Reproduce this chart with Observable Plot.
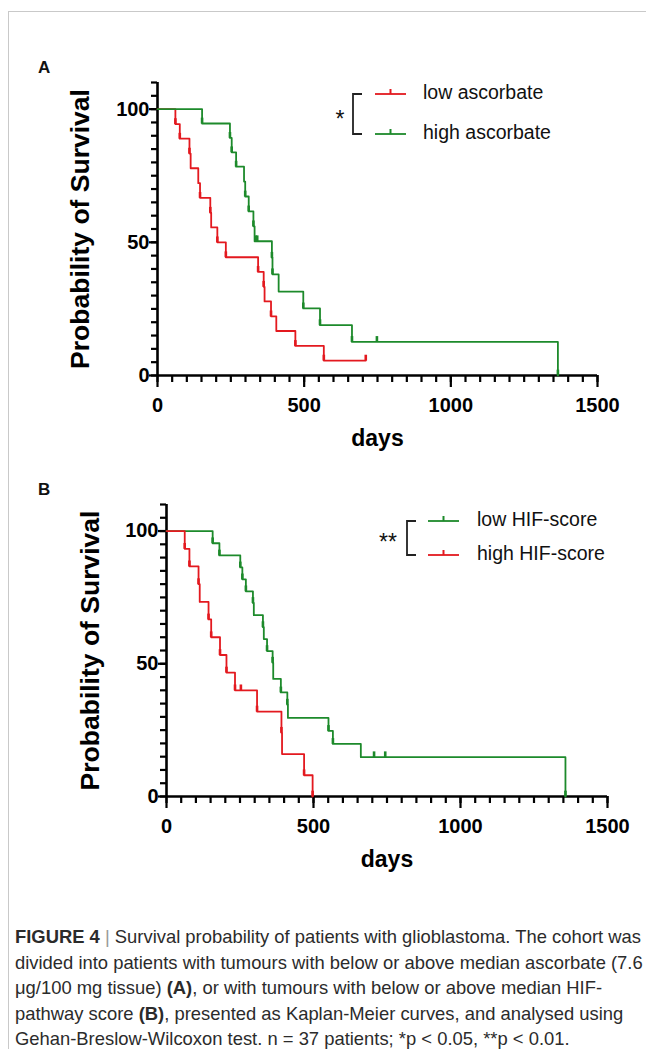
<!DOCTYPE html>
<html><head><meta charset="utf-8">
<script src="https://cdn.jsdelivr.net/npm/d3@7"></script>
<script src="https://cdn.jsdelivr.net/npm/@observablehq/plot@0.6"></script>
<style>
html,body{margin:0;padding:0;background:#fff;}
#page{position:relative;width:646px;height:1049px;overflow:hidden;background:#fff;font-family:"Liberation Sans",Arial,sans-serif;}
#frame{position:absolute;left:8px;top:11px;width:800px;height:1200px;border-top:1px solid #c9c9c9;border-left:1px solid #c9c9c9;}
.abs{position:absolute;left:0;}
.plab{position:absolute;font-weight:bold;font-size:17px;font-family:"Liberation Sans",Arial,sans-serif;color:#111;}
#caption{position:absolute;left:15px;top:924px;font-size:18.4px;line-height:25.5px;color:#2b2b2b;white-space:nowrap;font-family:"Liberation Sans",Arial,sans-serif;}
#caption .bar{color:#999;}
</style>
</head><body>
<div id="page">
  <div id="frame"></div>
  <div class="plab" style="left:38px;top:58px;">A</div>
  <div class="plab" style="left:38px;top:480px;">B</div>
  <div id="caption"></div>
</div>
<script>
// ---------- shared axis data ----------
const xLabel = "days";
const yLabel = "Probability of Survival";
const xMajor = [0, 500, 1000, 1500];
const xMinor = d3.range(0, 1501, 50);
const yMajor = [0, 50, 100];
const yMinor = d3.range(0, 111, 5);
const RED = "#e3191f", GREEN = "#1d8a2b";

// ---------- panel A: ascorbate ----------
const aNames = ["low ascorbate", "high ascorbate"];
const aSignif = "*";
const aLow = [[0,100],[61,94.4],[76,88.9],[109,83.3],[113,77.8],[139,72.2],[145,66.7],[180,61.1],[183,55.6],[204,50],[233,44.4],[343,38.9],[362,33.3],[365,27.8],[387,22.2],[405,16.7],[470,11.1],[567,5.6],[710,5.6]];
const aLowCensor = [[61,94.4],[76,88.9],[109,83.3],[145,66.7],[180,61.1],[204,50],[233,44.4],[343,38.9],[362,33.3],[387,22.2],[470,11.1],[567,5.6],[710,5.6]];
const aHigh = [[0,100],[152,94.6],[247,89.2],[253,83.8],[268,78.4],[295,72.8],[299,67.2],[311,61.6],[327,56],[331,50.4],[390,44.2],[392,38],[413,31.5],[497,25.2],[554,18.9],[663,12.6],[1365,0]];
const aHighCensor = [[152,94.6],[247,89.2],[253,83.8],[268,78.4],[299,67.2],[311,61.6],[327,56],[335,50.4],[340,50.4],[390,44.2],[392,38],[497,25.2],[554,18.9],[663,12.6],[748,12.6],[1365,0]];

// ---------- panel B: HIF-score ----------
const bNames = ["low HIF-score", "high HIF-score"];
const bSignif = "**";
const bLow = [[0,100],[157,95.4],[180,90.8],[251,86.3],[258,81.8],[270,77.3],[294,72.9],[297,68.3],[328,63.8],[331,59.3],[342,54.8],[361,50.4],[363,44.3],[389,39.2],[411,34.6],[413,29.6],[551,24.7],[566,19.8],[661,14.8],[1357,0]];
const bLowCensor = [[157,95.4],[180,90.8],[251,86.3],[258,81.8],[270,77.3],[294,72.9],[328,63.8],[342,54.8],[361,50.4],[389,39.2],[411,34.6],[551,24.7],[566,19.8],[706,14.8],[744,14.8],[1357,0]];
const bHigh = [[0,100],[62,93.3],[78,86.7],[109,80],[113,73.3],[143,66.7],[152,60],[182,53.3],[204,46.7],[233,40],[308,32],[391,24],[393,16],[468,8],[497,0]];
const bHighCensor = [[62,93.3],[78,86.7],[109,80],[143,66.7],[152,60],[182,53.3],[204,46.7],[233,40],[253,40],[308,32],[391,24],[468,8],[497,0]];

const captionLines = [
  '<b>FIGURE 4</b> <span class="bar">|</span> Survival probability of patients with glioblastoma. The cohort was',
  'divided into patients with tumours with below or above median ascorbate (7.6',
  'μg/100 mg tissue) <b>(A)</b>, or with tumours with below or above median HIF-',
  'pathway score <b>(B)</b>, presented as Kaplan-Meier curves, and analysed using',
  'Gehan-Breslow-Wilcoxon test. n = 37 patients; *p &lt; 0.05, **p &lt; 0.01.'
];

function panel(series, opts) {
  const axisW = 2.6;
  const marks = [
    Plot.ruleX([0], {y1: 0, y2: 110, strokeWidth: axisW, stroke: "#000"}),
    Plot.ruleY([0], {x1: 0, x2: 1500, strokeWidth: axisW, stroke: "#000"}),
    Plot.axisY({ticks: yMinor, tickSize: 6, tickFormat: () => "", strokeWidth: 2.2, label: null}),
    Plot.axisY({ticks: yMajor, tickSize: 8, tickPadding: 0, strokeWidth: 2.2, label: null, tickFormat: d => String(d), fontSize: 20, fontWeight: "bold"}),
    Plot.axisX({ticks: xMinor, tickSize: 7, tickFormat: () => "", strokeWidth: 2.2, label: null}),
    Plot.axisX({ticks: xMajor, tickSize: 12, tickPadding: 10, strokeWidth: 2.2, label: null, tickFormat: d => String(d), fontSize: 20, fontWeight: "bold"}),
    Plot.text([xLabel], {text: d => d, frameAnchor: "bottom", dy: 70, fontSize: 23, fontWeight: "bold", fill: "#000"}),
    Plot.text([yLabel], {text: d => d, frameAnchor: "left", textAnchor: "middle", dx: opts.yLabDx, rotate: -90, fontSize: 26.5, fontWeight: "bold", fill: "#000"})
  ];
  for (const s of series) {
    marks.push(Plot.line(s.steps, {x: d => d[0], y: d => d[1], curve: "step-after", stroke: s.color, strokeWidth: 1.8}));
    marks.push(Plot.link(s.censor, {x1: d => d[0], x2: d => d[0], y1: d => d[1], y2: d => d[1] + 2.2, stroke: s.color, strokeWidth: 2.6}));
  }
  const svg = Plot.plot({
    width: 646, height: opts.height,
    marginLeft: opts.ml, marginRight: opts.mr, marginTop: opts.mt, marginBottom: opts.mb,
    x: {domain: [0, 1500]}, y: {domain: [0, 110]},
    style: {fontFamily: "'Liberation Sans', Arial, sans-serif", fontSize: "20px", color: "#000", background: "transparent", overflow: "visible"},
    marks
  });
  svg.classList.add("abs");
  svg.style.top = opts.top + "px";
  return svg;
}

const page = document.getElementById("page");
page.appendChild(panel([
  {steps: aLow, censor: aLowCensor, color: RED},
  {steps: aHigh, censor: aHighCensor, color: GREEN}
], {top: 0, height: 460, ml: 157, mr: 49, mt: 82, mb: 85, yLabDx: -77}));

page.appendChild(panel([
  {steps: bLow, censor: bLowCensor, color: GREEN},
  {steps: bHigh, censor: bHighCensor, color: RED}
], {top: 460, height: 440, ml: 166, mr: 39, mt: 44, mb: 104, yLabDx: -76}));

// ---------- legends ----------
function legend(names, colors, signif, o) {
  const svg = d3.select(page).append("svg").attr("class", "abs")
    .attr("width", 646).attr("height", 1049).style("top", "0px").style("overflow", "visible");
  const g = svg.append("g").attr("font-family", "'Liberation Sans', Arial, sans-serif");
  g.append("text").attr("x", o.sx).attr("y", o.sy).attr("text-anchor", "middle")
    .attr("dominant-baseline", "middle").attr("font-size", 23).attr("fill", "#111").text(signif);
  g.append("path").attr("d", `M${o.bx + 9},${o.y0} H${o.bx} V${o.y1} H${o.bx + 9}`)
    .attr("fill", "none").attr("stroke", "#222").attr("stroke-width", 1.8);
  names.forEach((n, i) => {
    const y = i === 0 ? o.y0 : o.y1;
    g.append("line").attr("x1", o.lx0).attr("x2", o.lx1).attr("y1", y).attr("y2", y)
      .attr("stroke", colors[i]).attr("stroke-width", 1.8);
    const mx = (o.lx0 + o.lx1) / 2;
    g.append("line").attr("x1", mx).attr("x2", mx).attr("y1", y).attr("y2", y - 5)
      .attr("stroke", colors[i]).attr("stroke-width", 2);
    g.append("text").attr("x", o.tx).attr("y", y).attr("dominant-baseline", "middle")
      .attr("font-size", 19.5).attr("fill", "#111").text(n);
  });
}
legend(aNames, [RED, GREEN], aSignif, {sx: 340, sy: 121, bx: 353, y0: 94, y1: 134, lx0: 375, lx1: 406, tx: 423});
legend(bNames, [GREEN, RED], bSignif, {sx: 388, sy: 544, bx: 407, y0: 521, y1: 555, lx0: 428, lx1: 459, tx: 477});

document.getElementById("caption").innerHTML = captionLines.map(l => `<div>${l}</div>`).join("");
</script>
</body></html>
